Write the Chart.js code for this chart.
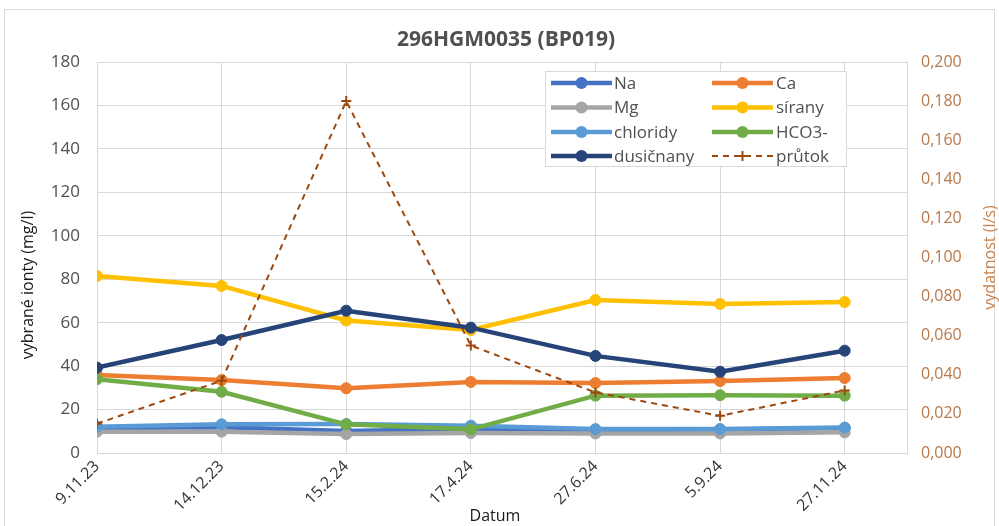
<!DOCTYPE html>
<html>
<head>
<meta charset="utf-8">
<script src="https://cdn.jsdelivr.net/npm/chart.js@4.4.1/dist/chart.umd.min.js"></script>
<style>
  html, body { margin: 0; padding: 0; background: #fff; }
  canvas { display: block; }
</style>
</head>
<body>
<canvas id="chart" width="999" height="526"></canvas>
<script>
// Sampling dates (category labels)
const dates = ['9.11.23', '14.12.23', '15.2.24', '17.4.24', '27.6.24', '5.9.24', '27.11.24'];

// Selected ions (mg/l)
const na        = [11.5, 11.8, 10.1, 11.0, 10.6, 10.8, 11.5];
const ca        = [35.9, 33.6, 29.8, 32.7, 32.2, 33.1, 34.5];
const mg        = [9.8, 9.8, 8.7, 9.2, 9.0, 9.0, 9.5];
const sirany    = [81.5, 76.9, 61.0, 56.6, 70.4, 68.6, 69.5];
const chloridy  = [12.1, 13.2, 13.3, 12.6, 11.0, 11.0, 11.7];
const hco3      = [34.0, 28.2, 13.2, 10.9, 26.4, 26.6, 26.4];
const dusicnany = [39.3, 52.0, 65.5, 57.7, 44.7, 37.4, 47.1];

// Discharge (l/s)
const prutok = [0.015, 0.037, 0.180, 0.055, 0.031, 0.019, 0.032];

// Axis ticks
const leftTicks  = [0, 20, 40, 60, 80, 100, 120, 140, 160, 180];
const rightTicks = [0, 0.02, 0.04, 0.06, 0.08, 0.10, 0.12, 0.14, 0.16, 0.18, 0.20];

const FONT = "'Open Sans', 'Liberation Sans', sans-serif";
const GRID = '#D9D9D9';
const TXT = '#505050';
const FLOW = '#9E480E';

const ions = [
  { label: 'Na',        data: na,        color: '#4472C4' },
  { label: 'Ca',        data: ca,        color: '#ED7D31' },
  { label: 'Mg',        data: mg,        color: '#A5A5A5' },
  { label: 'sírany',    data: sirany,    color: '#FFC000' },
  { label: 'chloridy',  data: chloridy,  color: '#5B9BD5' },
  { label: 'HCO3-',     data: hco3,      color: '#70AD47' },
  { label: 'dusičnany', data: dusicnany, color: '#264478' }
];

const toPoints = arr => arr.map((v, i) => ({ x: i, y: v }));

const datasets = ions.map((s, i) => ({
  label: s.label,
  data: toPoints(s.data),
  yAxisID: 'y',
  borderColor: s.color,
  backgroundColor: s.color,
  borderWidth: 4.5,
  pointRadius: 5.5,
  pointHoverRadius: 5.5,
  pointBorderWidth: 1,
  pointBackgroundColor: s.color,
  pointBorderColor: s.color,
  tension: 0,
  order: 20 - i
}));

datasets.push({
  label: 'průtok',
  data: toPoints(prutok),
  yAxisID: 'y1',
  borderColor: FLOW,
  backgroundColor: FLOW,
  borderWidth: 2,
  borderDash: [6, 5],
  pointStyle: 'cross',
  pointRadius: 5,
  pointHoverRadius: 5,
  pointBorderWidth: 2,
  pointBorderColor: FLOW,
  tension: 0,
  order: 1
});

// White page with a thin frame
const frame = {
  id: 'frame',
  beforeDraw(chart) {
    const c = chart.ctx;
    c.save();
    c.fillStyle = '#fff';
    c.fillRect(0, 0, chart.width, chart.height);
    c.strokeStyle = GRID;
    c.lineWidth = 1;
    c.strokeRect(4.5, 9.5, 990, 522);
    c.restore();
  }
};

// Title and axis titles
const texts = {
  id: 'texts',
  afterDraw(chart) {
    const c = chart.ctx;
    const area = chart.chartArea;
    c.save();
    c.textAlign = 'center';
    c.textBaseline = 'middle';

    c.fillStyle = TXT;
    c.font = "bold 21px " + FONT;
    c.fillText('296HGM0035 (BP019)', 506, 40);

    c.fillStyle = '#1a1a1a';
    c.font = "16px " + FONT;
    c.fillText('Datum', 495, 516);

    c.save();
    c.font = "16px " + FONT;
    c.translate(28, 285);
    c.rotate(-Math.PI / 2);
    c.fillText('vybrané ionty (mg/l)', 0, 0);
    c.restore();

    c.save();
    c.font = "16px " + FONT;
    c.fillStyle = '#C9804A';
    c.translate(990, (area.top + area.bottom) / 2);
    c.rotate(-Math.PI / 2);
    c.fillText('vydatnost (l/s)', 0, 0);
    c.restore();

    c.restore();
  }
};

// Two-column legend box inside the plot
const boxLegend = {
  id: 'boxLegend',
  afterDatasetsDraw(chart) {
    const c = chart.ctx;
    const ds = chart.data.datasets;
    const box = { x: 545.5, y: 71.5, w: 301, h: 95 };
    const rows = [83, 107.5, 132, 156];
    const cols = [
      { x0: 551, x1: 612, tx: 614 },
      { x0: 712, x1: 773, tx: 776 }
    ];
    c.save();
    c.fillStyle = '#fff';
    c.fillRect(box.x, box.y, box.w, box.h);
    c.strokeStyle = GRID;
    c.lineWidth = 1;
    c.strokeRect(box.x, box.y, box.w, box.h);
    c.font = "17px " + FONT;
    c.textBaseline = 'middle';
    c.textAlign = 'left';
    ds.forEach((d, i) => {
      const row = rows[Math.floor(i / 2)];
      const col = cols[i % 2];
      const mid = (col.x0 + col.x1) / 2;
      c.strokeStyle = d.borderColor;
      c.lineWidth = d.borderWidth;
      c.setLineDash(d.borderDash || []);
      c.beginPath();
      c.moveTo(col.x0, row);
      c.lineTo(col.x1, row);
      c.stroke();
      c.setLineDash([]);
      if (d.pointStyle === 'cross') {
        c.lineWidth = 2;
        c.beginPath();
        c.moveTo(mid - 5, row); c.lineTo(mid + 5, row);
        c.moveTo(mid, row - 5); c.lineTo(mid, row + 5);
        c.stroke();
      } else {
        c.fillStyle = d.borderColor;
        c.beginPath();
        c.arc(mid, row, 6, 0, Math.PI * 2);
        c.fill();
      }
      c.fillStyle = TXT;
      c.fillText(d.label, col.tx, row + 1);
    });
    c.restore();
  }
};

new Chart(document.getElementById('chart'), {
  type: 'line',
  data: { datasets },
  plugins: [frame, boxLegend, texts],
  options: {
    responsive: false,
    animation: false,
    events: [],
    layout: { padding: { top: 62, left: 0, right: 0, bottom: 0 } },
    plugins: {
      legend: { display: false },
      title: { display: false },
      tooltip: { enabled: false }
    },
    scales: {
      x: {
        type: 'linear',
        min: 0,
        max: 6.5,
        afterBuildTicks(scale) {
          scale.ticks = dates.map((_, i) => ({ value: i }));
        },
        afterFit(scale) { scale.height = 526 - 453; },
        grid: { color: GRID, lineWidth: 1, drawTicks: false },
        border: { color: GRID },
        ticks: {
          autoSkip: false,
          maxRotation: 45,
          minRotation: 45,
          padding: 4,
          color: '#333',
          font: { family: FONT, size: 16 },
          callback: v => dates[v]
        }
      },
      y: {
        position: 'left',
        min: 0,
        max: 180,
        afterBuildTicks(scale) {
          scale.ticks = leftTicks.map(v => ({ value: v }));
        },
        afterFit(scale) { scale.width = 97; },
        grid: { color: GRID, lineWidth: 1, drawTicks: false },
        border: { color: GRID },
        ticks: {
          padding: 17,
          color: TXT,
          font: { family: FONT, size: 17 }
        }
      },
      y1: {
        position: 'right',
        min: 0,
        max: 0.2,
        afterBuildTicks(scale) {
          scale.ticks = rightTicks.map(v => ({ value: v }));
        },
        afterFit(scale) { scale.width = 999 - 907; },
        grid: { drawOnChartArea: false, drawTicks: false },
        border: { color: GRID },
        ticks: {
          padding: 14,
          color: '#B8784A',
          font: { family: FONT, size: 16 },
          callback: v => v.toFixed(3).replace('.', ',')
        }
      }
    }
  }
});
</script>
</body>
</html>
